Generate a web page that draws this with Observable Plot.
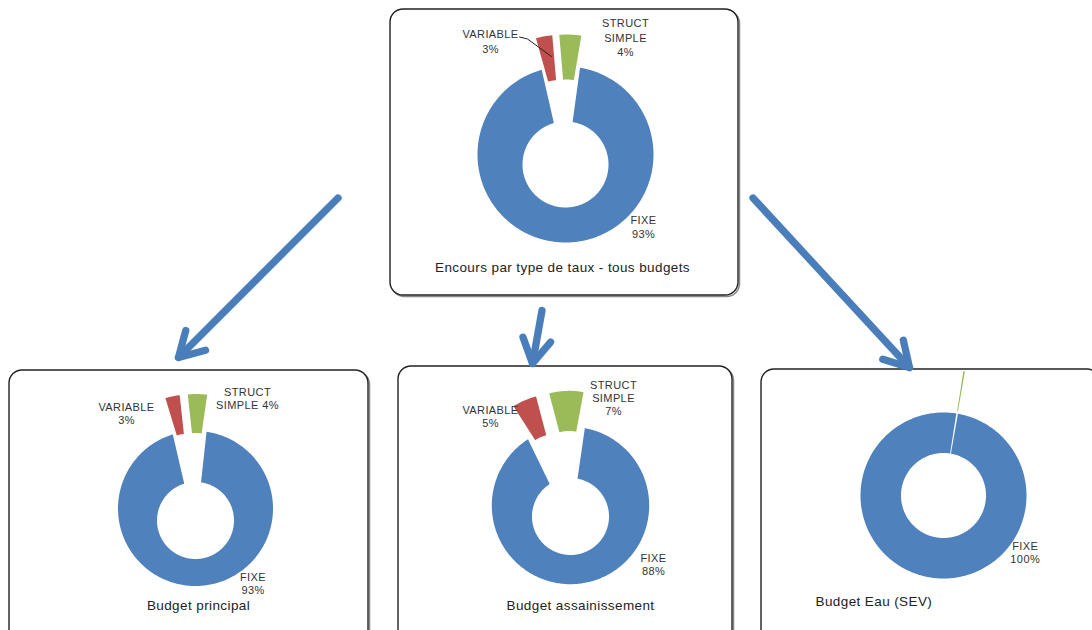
<!DOCTYPE html>
<html><head><meta charset="utf-8">
<script src="https://cdn.jsdelivr.net/npm/d3@7"></script>
<script src="https://cdn.jsdelivr.net/npm/@observablehq/plot@0.6"></script>
<style>body{margin:0;background:#fff}</style>
</head><body><div id="chart"></div>
<script>
// ---- data ----
const chartTitles = ["Encours par type de taux - tous budgets", "Budget principal", "Budget assainissement", "Budget Eau (SEV)"];
const categories = ["FIXE", "VARIABLE", "STRUCT SIMPLE"];
const valuesTous = [93, 3, 4];
const valuesPrincipal = [93, 3, 4];
const valuesAssainissement = [88, 5, 7];
const valuesEau = [99.7, 0, 0.3];
const sliceColors = ["#4f81bd", "#c0504d", "#9bbb59"];

// ---- layout (positions only) ----
const panels = [
  {values: valuesTous, box: [390, 9, 738, 295], cx: 565, cy: 154, r0: 43, r1: 88, holeDy: 10, start: 9.5, explode: 32,
   title: [562, 262, "middle"],
   labels: {"FIXE": [643, 213, "\n"], "VARIABLE": [490, 27.7, "\n"], "STRUCT SIMPLE": [625, 16.7, "\n"]}},
  {values: valuesPrincipal, box: [9, 370, 368, 645], cx: 195, cy: 508, r0: 38.5, r1: 77.5, holeDy: 12, start: 8.2, explode: 37,
   title: [198, 600, "middle"],
   labels: {"FIXE": [252.5, 571.7, "\n"], "VARIABLE": [126, 401.7, "\n"], "STRUCT SIMPLE": [247, 386.7, " "]}},
  {values: valuesAssainissement, box: [398, 366, 732, 645], cx: 570, cy: 505, r0: 38.5, r1: 78.7, holeDy: 11, start: 10.5, explode: 36,
   title: [580, 600, "middle"],
   labels: {"FIXE": [653, 552, "\n"], "VARIABLE": [490, 403.7, "\n"], "STRUCT SIMPLE": [613, 378.7, "\n"]}},
  {values: valuesEau, box: [761, 369, 1100, 645], cx: 943, cy: 495, r0: 42.5, r1: 83, holeDy: 0, start: 10, explode: 43,
   title: [815, 596, "start"],
   labels: {"FIXE": [1024.7, 540, "\n"]}}
];
const arrowPaths = [
  {from: [337.5, 197.5], to: [178, 357]},
  {from: [541.5, 310], to: [532, 363]},
  {from: [752.5, 197.5], to: [909, 367]}
];
const leader = [{x: 519, y: 36.5}, {x: 527, y: 38.5}, {x: 551, y: 56}];

// ---- build geometry from data ----
const rad = Math.PI / 180;
const slices = [];
const labelRows = [];
const titleRows = [];
panels.forEach((p, pi) => {
  const arcs = d3.pie().sort(null).startAngle(p.start * rad).endAngle(p.start * rad + 2 * Math.PI)(p.values);
  arcs.forEach((a, ci) => {
    if (a.value <= 0) return;
    const exploded = ci > 0;
    const mid = (a.startAngle + a.endAngle) / 2;
    const off = exploded ? p.explode : 0;
    const ox = p.cx + off * Math.sin(mid), oy = p.cy - off * Math.cos(mid);
    const hy = oy + (exploded ? 0 : p.holeDy);
    const n = Math.max(2, Math.ceil((a.endAngle - a.startAngle) / rad) + 1);
    const id = pi + "-" + ci;
    for (let i = 0; i < n; i++) {
      const t = a.startAngle + (a.endAngle - a.startAngle) * i / (n - 1);
      slices.push({id, cat: categories[ci], x: ox + p.r1 * Math.sin(t), y: oy - p.r1 * Math.cos(t)});
    }
    for (let i = n - 1; i >= 0; i--) {
      const t = a.startAngle + (a.endAngle - a.startAngle) * i / (n - 1);
      slices.push({id, cat: categories[ci], x: ox + p.r0 * Math.sin(t), y: hy - p.r0 * Math.cos(t)});
    }
    const pos = p.labels[categories[ci]];
    if (pos && Math.round(a.value) >= 1) {
      labelRows.push({panel: pi, x: pos[0], y: pos[1],
        text: categories[ci].replace(" ", "\n") + pos[2] + Math.round(a.value) + "%"});
    }
  });
  titleRows.push({x: p.title[0], y: p.title[1], anchor: p.title[2], text: chartTitles[pi]});
});
const boxes = panels.map(p => ({x1: p.box[0], y1: p.box[1], x2: p.box[2], y2: p.box[3]}));
const arrowLines = [];
arrowPaths.forEach((a, i) => {
  const [x1, y1] = a.from, [x2, y2] = a.to;
  arrowLines.push({id: "s" + i, x: x1, y: y1}, {id: "s" + i, x: x2, y: y2});
  const ang = Math.atan2(y1 - y2, x1 - x2);
  const wl = 28, wa = 30 * rad;
  arrowLines.push({id: "h" + i, x: x2 + wl * Math.cos(ang - wa), y: y2 + wl * Math.sin(ang - wa)},
                  {id: "h" + i, x: x2, y: y2},
                  {id: "h" + i, x: x2 + wl * Math.cos(ang + wa), y: y2 + wl * Math.sin(ang + wa)});
});

const font = "Liberation Sans, Arial, sans-serif";
const textColor = "#333";
const chart = Plot.plot({
  width: 1092, height: 630, margin: 0,
  x: {type: "linear", domain: [0, 1092], range: [0, 1092], axis: null},
  y: {type: "linear", domain: [0, 630], range: [0, 630], axis: null},
  color: {domain: categories, range: sliceColors},
  style: {background: "white", fontFamily: font},
  marks: [
    Plot.rect(boxes, {x1: "x1", y1: "y1", x2: "x2", y2: "y2", rx: 13, fill: "none", stroke: "#888", strokeWidth: 1.5, dx: 1.5, dy: 1.5}),
    Plot.rect(boxes, {x1: "x1", y1: "y1", x2: "x2", y2: "y2", rx: 13, fill: "white", stroke: "#222", strokeWidth: 1.4}),
    Plot.line(slices, {x: "x", y: "y", z: "id", fill: "cat", stroke: "none", curve: "linear-closed"}),
    Plot.line(leader, {x: "x", y: "y", stroke: "#222", strokeWidth: 1}),
    Plot.line(arrowLines, {x: "x", y: "y", z: "id", stroke: "#4a7ebb", strokeWidth: 7.3, strokeLinecap: "round", strokeLinejoin: "round"}),
    Plot.text(labelRows.filter(d => d.panel === 0), {x: "x", y: "y", text: "text", lineAnchor: "top", textAnchor: "middle", lineHeight: 1.3, fontSize: 11, fill: textColor}),
    Plot.text(labelRows.filter(d => d.panel === 1), {x: "x", y: "y", text: "text", lineAnchor: "top", textAnchor: "middle", lineHeight: 1.16, fontSize: 11, fill: textColor}),
    Plot.text(labelRows.filter(d => d.panel >= 2), {x: "x", y: "y", text: "text", lineAnchor: "top", textAnchor: "middle", lineHeight: 1.21, fontSize: 11, fill: textColor}),
    Plot.text(titleRows.filter(d => d.anchor === "middle"), {x: "x", y: "y", text: "text", lineAnchor: "top", textAnchor: "middle", fontSize: 13.5, fill: "#222"}),
    Plot.text(titleRows.filter(d => d.anchor === "start"), {x: "x", y: "y", text: "text", lineAnchor: "top", textAnchor: "start", fontSize: 13.5, fill: "#222"})
  ]
});
chart.style.letterSpacing = "0.4px";
document.getElementById("chart").appendChild(chart);
</script>
</body></html>
